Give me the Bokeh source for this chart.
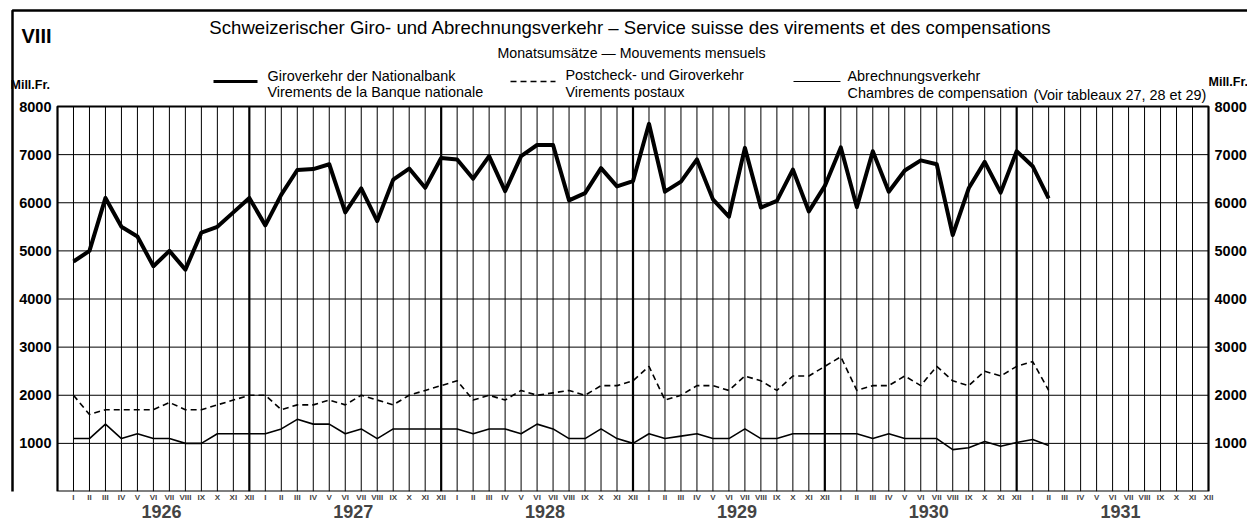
from bokeh.plotting import figure
from bokeh.models import Range1d, FixedTicker, LinearAxis, Label
from bokeh.core.properties import value
from bokeh.embed import file_html
from bokeh.resources import INLINE

years = [1926, 1927, 1928, 1929, 1930, 1931]
month_labels = ["I", "II", "III", "IV", "V", "VI", "VII", "VIII", "IX", "X", "XI", "XII"]
y_ticks = [1000, 2000, 3000, 4000, 5000, 6000, 7000, 8000]

# Monthly values Jan 1926 - Feb 1931, Mill. Fr.
giro = [4780, 5000, 6100, 5500, 5300, 4680, 5000, 4610, 5380, 5500, 5800, 6100,
        5530, 6170, 6680, 6700, 6800, 5800, 6300, 5620, 6480, 6710, 6310, 6930,
        6900, 6500, 6970, 6240, 6970, 7200, 7200, 6050, 6200, 6720, 6340, 6450,
        7640, 6230, 6440, 6900, 6070, 5710, 7140, 5900, 6040, 6690, 5820, 6350,
        7150, 5910, 7070, 6230, 6670, 6880, 6800, 5330, 6300, 6850, 6210, 7070,
        6760, 6090]
postal = [2000, 1600, 1700, 1700, 1700, 1700, 1850, 1700, 1700, 1800, 1900, 2000,
          2000, 1700, 1800, 1800, 1900, 1800, 2000, 1900, 1800, 2000, 2100, 2200,
          2300, 1900, 2000, 1900, 2100, 2000, 2050, 2100, 2000, 2200, 2200, 2300,
          2600, 1900, 2000, 2200, 2200, 2100, 2400, 2300, 2100, 2400, 2400, 2600,
          2800, 2100, 2200, 2200, 2400, 2200, 2600, 2300, 2200, 2500, 2400, 2600,
          2700, 2100]
clearing = [1100, 1100, 1400, 1100, 1200, 1100, 1100, 1000, 1000, 1200, 1200, 1200,
            1200, 1300, 1500, 1400, 1400, 1200, 1300, 1100, 1300, 1300, 1300, 1300,
            1300, 1200, 1300, 1300, 1200, 1400, 1300, 1100, 1100, 1300, 1100, 1000,
            1200, 1100, 1150, 1200, 1100, 1100, 1300, 1100, 1100, 1200, 1200, 1200,
            1200, 1200, 1100, 1200, 1100, 1100, 1100, 870, 910, 1040, 940, 1020,
            1080, 955]

n_months = len(years) * 12
xs = list(range(1, len(giro) + 1))
y_top = y_ticks[-1]

FONT = "Liberation Sans"
W, H = 1247, 521
# page layout of the chart area (pixels)
PL, PR, PT, PB = 57, 1208, 106, 491
KX = (PR - PL) / n_months      # px per month
KY = (PB - PT) / y_top         # px per Mill. Fr.


def dx(px):
    return (px - PL) / KX


def dy(py):
    return (PB - py) / KY


p = figure(width=W, height=H,
           x_range=Range1d(dx(0), dx(W)), y_range=Range1d(0, dy(0)),
           output_backend="svg", toolbar_location=None, y_axis_location=None,
           min_border_left=0, min_border_right=0, min_border_top=0, min_border_bottom=30,
           background_fill_color="white", border_fill_color="white",
           outline_line_color=None)
p.xgrid.visible = False
p.ygrid.visible = False

# x axis: months
xa = p.xaxis[0]
xa.ticker = FixedTicker(ticks=list(range(1, n_months + 1)))
xa.major_label_overrides = {k: month_labels[(k - 1) % 12] for k in range(1, n_months + 1)}
xa.axis_line_color = None
xa.major_tick_line_color = None
xa.minor_tick_line_color = None
xa.major_tick_out = 0
xa.major_tick_in = 0
xa.minor_tick_out = 0
xa.major_label_standoff = 1
xa.major_label_text_font = FONT
xa.major_label_text_font_style = "bold"
xa.major_label_text_font_size = "8px"

# year axis
year_ticks = [12 * i + 6.5 for i in range(len(years))]
ya2 = LinearAxis(ticker=FixedTicker(ticks=year_ticks),
                 major_label_overrides={t: str(y) for t, y in zip(year_ticks, years)},
                 axis_line_color=None, major_tick_line_color=None, minor_tick_line_color=None,
                 major_tick_out=0, major_tick_in=0, minor_tick_out=0,
                 major_label_standoff=0, major_label_text_font=FONT,
                 major_label_text_font_style="bold", major_label_text_font_size="18px")
p.add_layout(ya2, "below")

# grid: horizontal lines
hg = y_ticks[:-1]
p.segment(x0=[0] * len(hg), y0=hg, x1=[n_months] * len(hg), y1=hg,
          line_color="black", line_width=1)
# grid: vertical month lines
vg = [m for m in range(1, n_months) if m % 12 != 0]
p.segment(x0=vg, y0=[0] * len(vg), x1=vg, y1=[y_top] * len(vg),
          line_color="black", line_width=1)
# year separators
dec_x = [12 * (i + 1) for i in range(len(years) - 1)]
p.segment(x0=dec_x, y0=[0] * len(dec_x), x1=dec_x, y1=[y_top] * len(dec_x),
          line_color="black", line_width=2.2)
# chart frame
p.quad(left=[0], right=[n_months], bottom=[0], top=[y_top],
       fill_color=None, line_color="black", line_width=2.2)

# y tick labels, both sides
p.text(x=[dx(51)] * len(y_ticks), y=y_ticks, text=[str(v) for v in y_ticks],
       text_font=value(FONT), text_font_style="bold", text_font_size="14.5px",
       text_align="right", text_baseline="middle", text_color="black")
p.text(x=[dx(1214)] * len(y_ticks), y=y_ticks, text=[str(v) for v in y_ticks],
       text_font=value(FONT), text_font_style="bold", text_font_size="14.5px",
       text_align="left", text_baseline="middle", text_color="black")

# series
p.line(xs, giro, line_color="black", line_width=4, line_join="round")
p.line(xs, postal, line_color="black", line_width=1.6, line_dash="6 4")
p.line(xs, clearing, line_color="black", line_width=1.6)


def lab(text, px, py, size, align="left", style="normal"):
    p.add_layout(Label(x=dx(px), y=dy(py), text=text,
                       text_font=FONT, text_font_size=size, text_font_style=style,
                       text_align=align, text_baseline="middle", text_color="black"))


lab("VIII", 21, 35, "20px", style="bold")
lab("Schweizerischer Giro- und Abrechnungsverkehr – Service suisse des virements et des compensations",
    630, 27, "18.6px", align="center")
lab("Monatsumsätze — Mouvements mensuels", 631, 52, "14.2px", align="center")
lab("Giroverkehr der Nationalbank", 267, 75, "14.4px")
lab("Virements de la Banque nationale", 267, 91, "14.4px")
lab("Postcheck- und Giroverkehr", 565, 74, "14.4px")
lab("Virements postaux", 565, 91, "14.4px")
lab("Abrechnungsverkehr", 847, 75, "14.4px")
lab("Chambres de compensation", 847, 92, "14.4px")
lab("(Voir tableaux 27, 28 et 29)", 1033, 94, "14.4px")
lab("Mill.Fr.", 10, 84, "12.5px", style="bold")
lab("Mill.Fr.", 1208, 81, "12.5px", style="bold")

# legend samples
p.line([dx(213), dx(257)], [dy(81), dy(81)], line_color="black", line_width=3)
p.line([dx(510), dx(555)], [dy(81), dy(81)], line_color="black", line_width=1.5, line_dash="6 4")
p.line([dx(793), dx(840)], [dy(81), dy(81)], line_color="black", line_width=1.2)

# page frame (left and top edges)
p.line([dx(12), dx(12), dx(W + 5)], [dy(H + 5), dy(10), dy(10)],
       line_color="black", line_width=2.5)

open("out.html", "w").write(file_html(p, INLINE))
